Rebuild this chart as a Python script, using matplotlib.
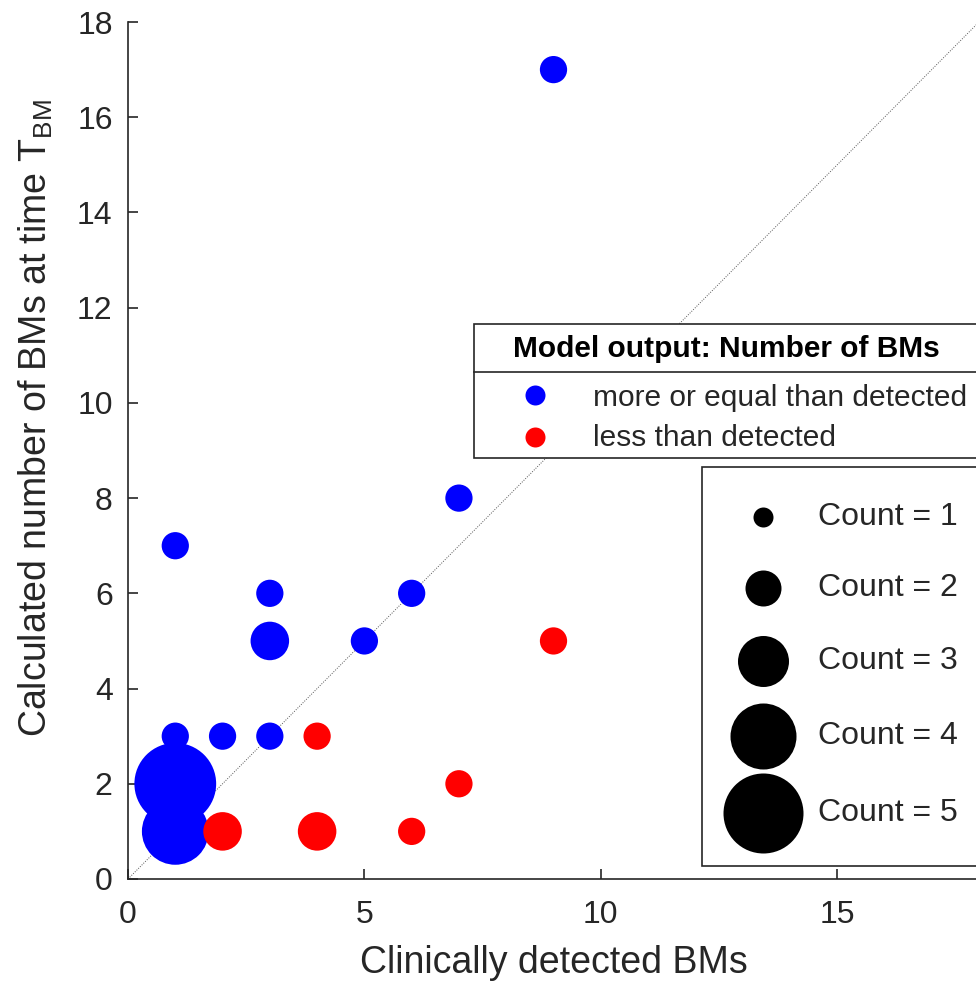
import numpy as np
import matplotlib.pyplot as plt
from matplotlib.patches import Rectangle
from matplotlib.lines import Line2D

plt.rcParams['font.family'] = ['Liberation Sans', 'DejaVu Sans']
plt.rcParams['mathtext.default'] = 'regular'

# clinically detected vs. model-calculated number of BMs, with patient counts
detected = [9, 1, 7, 3, 3, 5, 6, 1, 2, 3, 1, 1, 4, 9, 7, 2, 4, 6]
calculated = [17, 7, 8, 6, 5, 5, 6, 3, 3, 3, 2, 1, 3, 5, 2, 1, 1, 1]
counts = [1, 1, 1, 1, 2, 1, 1, 1, 1, 1, 9, 6, 1, 1, 1, 2, 2, 1]

legend_counts = [1, 2, 3, 4, 5]
legend_diam_px = [20, 36, 51, 66, 80]

W, H = 976, 983
DPI = 100
fg = '#262626'

fig = plt.figure(figsize=(W / DPI, H / DPI), dpi=DPI)
ax = fig.add_axes([128 / W, 1 - 879 / H, (979 - 128) / W, (879 - 22) / H])

det = np.array(detected)
calc = np.array(calculated)
cnt = np.array(counts)
colors = np.where(calc >= det, '#0000ff', '#ff0000')

ax.plot([0, 18], [0, 18], ls=(0, (1, 1.5)), color='#555555', lw=0.7, zorder=1)
ax.scatter(det, calc, s=385 * cnt, c=colors, edgecolors='none', zorder=2)

ax.set_xlim(0, 18)
ax.set_ylim(0, 18)
ax.set_xticks([0, 5, 10, 15])
ax.set_yticks(np.arange(0, 19, 2))
for side in ['top', 'right']:
    ax.spines[side].set_visible(False)
for side in ['left', 'bottom']:
    ax.spines[side].set_color(fg)
    ax.spines[side].set_linewidth(1.2)
ax.tick_params(direction='in', length=7, width=1.2, colors=fg, labelsize=23)
ax.tick_params(axis='x', pad=15)
ax.tick_params(axis='y', pad=11)
ax.set_xlabel('Clinically detected BMs', fontsize=27, color=fg, labelpad=11)
ax.set_ylabel('Calculated number of BMs at time T$_{BM}$', fontsize=27, color=fg)
ax.yaxis.label.set_verticalalignment('center')
ax.yaxis.set_label_coords((36 - 128) / 851, (879 - 418) / 857)


def fx(x):
    return x / W


def fy(y):
    return 1 - y / H


def marker(x, y, d_px, color):
    fig.add_artist(Line2D([fx(x)], [fy(y)], marker='o', markersize=d_px * 72 / DPI,
                          color=color, markeredgewidth=0, linestyle='none',
                          transform=fig.transFigure, zorder=6))


# colour legend
fig.add_artist(Rectangle((fx(474), fy(458)), fx(1000) - fx(474), fy(324) - fy(458),
                         transform=fig.transFigure, facecolor='white', edgecolor=fg,
                         lw=1.2, zorder=5))
fig.add_artist(Line2D([fx(474), fx(1000)], [fy(372), fy(372)], color=fg, lw=1.2,
                      transform=fig.transFigure, zorder=6))
fig.text(fx(513), fy(349), 'Model output: Number of BMs', fontsize=21.5, fontweight='bold',
         color='black', va='center', zorder=7)
marker(535, 395, 20, '#0000ff')
marker(535, 437, 20, '#ff0000')
fig.text(fx(593), fy(398), 'more or equal than detected', fontsize=21.5, color=fg,
         va='center', zorder=7)
fig.text(fx(593), fy(438), 'less than detected', fontsize=21.5, color=fg,
         va='center', zorder=7)

# size legend
fig.add_artist(Rectangle((fx(702), fy(866)), fx(1000) - fx(702), fy(467) - fy(866),
                         transform=fig.transFigure, facecolor='white', edgecolor=fg,
                         lw=1.2, zorder=5))
ys = [517, 588, 661, 736, 813]
for c, d, y in zip(legend_counts, legend_diam_px, ys):
    marker(763, y, d, 'black')
    fig.text(fx(818), fy(y), f'Count = {c}', fontsize=23, color=fg, va='center', zorder=7)

fig.savefig('out.png', dpi=DPI)
